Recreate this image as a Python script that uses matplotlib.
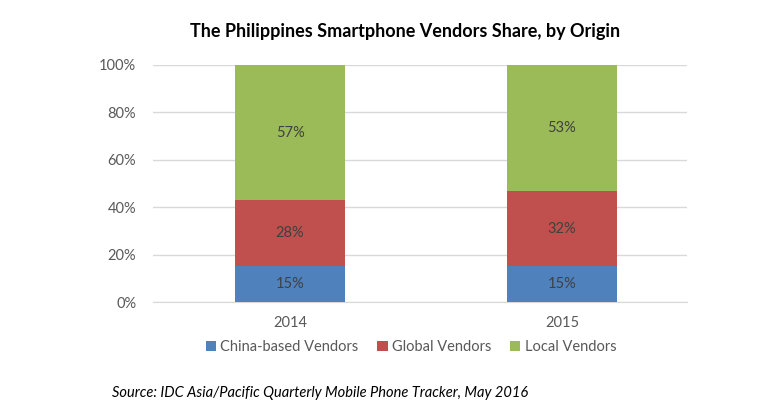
import matplotlib
matplotlib.use("Agg")
import matplotlib.pyplot as plt
import numpy as np

years = ["2014", "2015"]
series_names = ["China-based Vendors", "Global Vendors", "Local Vendors"]
china = [15, 15]
global_v = [28, 32]
local = [57, 53]
colors = ["#4F81BD", "#C0504D", "#9BBB59"]

plt.rcParams['font.family'] = ['Lato', 'DejaVu Sans']

W, H = 768, 416
fig = plt.figure(figsize=(W/100, H/100), dpi=100)
ax = fig.add_axes([153/W, 1-302/H, (687-153)/W, (302-65)/H])

x = np.arange(len(years))
bottom = np.zeros(len(years))
for vals, name, c in zip([china, global_v, local], series_names, colors):
    v = np.array(vals, dtype=float)
    ax.bar(x, v, 0.404, bottom=bottom, color=c, label=name, zorder=3)
    for xi, b, vi in zip(x, bottom, v):
        ax.text(xi, b + vi/2, f"{int(vi)}%", ha='center', va='center',
                fontsize=10.5, color='#404040', zorder=4)
    bottom += v

ax.set_xlim(-0.504, 1.46)
ax.set_ylim(0, 100)
ax.set_yticks(np.arange(0, 101, 20))
ax.set_yticklabels([f"{t}%" for t in range(0, 101, 20)])
ax.set_xticks(x)
ax.set_xticklabels(years)
ax.tick_params(axis='both', length=0, labelsize=10.5, labelcolor='#595959')
ax.tick_params(axis='y', pad=12)
ax.tick_params(axis='x', pad=10)
ax.grid(axis='y', color='#D9D9D9', linewidth=1, zorder=0)
for s in ['top', 'right', 'left']:
    ax.spines[s].set_visible(False)
ax.spines['bottom'].set_color('#D9D9D9')

fig.text(405/W, 1-32/H, "The Philippines Smartphone Vendors Share, by Origin",
         ha='center', va='center', fontsize=13, fontweight='bold', color='black')

leg = fig.legend(loc='center', bbox_to_anchor=(411/W, 1-347/H), ncol=3,
                 frameon=False, fontsize=10.5, handlelength=0.7, handleheight=0.7,
                 handletextpad=0.3, columnspacing=1.3)
for t in leg.get_texts():
    t.set_color('#595959')

fig.text(112/W, 1-393/H, "Source: IDC Asia/Pacific Quarterly Mobile Phone Tracker, May 2016",
         ha='left', va='center', fontsize=10.5, style='italic', color='black')

fig.savefig("out.png", dpi=100)
